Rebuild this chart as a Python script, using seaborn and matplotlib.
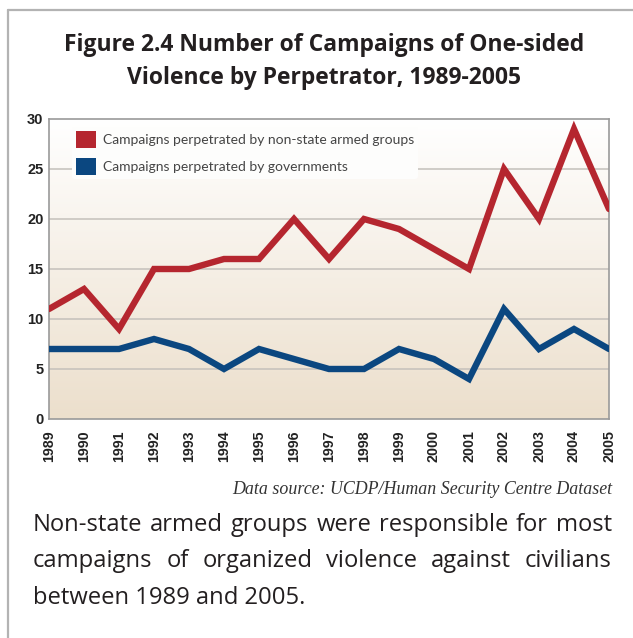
import numpy as np
import pandas as pd
import matplotlib
matplotlib.use("Agg")
import matplotlib.pyplot as plt
from matplotlib.patches import Patch
from matplotlib.lines import Line2D
import seaborn as sns

years = list(range(1989, 2006))
non_state = [11, 13, 9, 15, 15, 16, 16, 20, 16, 20, 19, 17, 15, 25, 20, 29, 21]
government = [7, 7, 7, 8, 7, 5, 7, 6, 5, 5, 7, 6, 4, 11, 7, 9, 7]
series_names = ["Campaigns perpetrated by non-state armed groups",
                "Campaigns perpetrated by governments"]
y_ticks = [0, 5, 10, 15, 20, 25, 30]

title_text = "Figure 2.4 Number of Campaigns of One-sided\nViolence by Perpetrator, 1989-2005"
source_text = "Data source: UCDP/Human Security Centre Dataset"
caption_lines = ["Non-state armed groups were responsible for most",
                 "campaigns of organized violence against civilians",
                 "between 1989 and 2005."]

RED = "#b5262f"
BLUE = "#0b4780"
GRID = "#c4c0bb"
SPINE = "#9a9a9a"

sns.set_theme(style="white")
plt.rcParams["font.family"] = ["Liberation Sans", "DejaVu Sans"]

df = pd.DataFrame({
    "year": years * 2,
    "count": non_state + government,
    "series": [series_names[0]] * len(years) + [series_names[1]] * len(years),
})

W, H, DPI = 633, 638, 100
fig = plt.figure(figsize=(W / DPI, H / DPI), dpi=DPI)
fig.patch.set_facecolor("white")

def fx(px):
    return px / W

def fy(py):
    return 1 - py / H

ax_left, ax_right, ax_top, ax_bot = 49, 609, 119, 419
ax = fig.add_axes([fx(ax_left), fy(ax_bot), fx(ax_right - ax_left), (ax_bot - ax_top) / H])

# vertical gradient background, white at top to warm tan at bottom
top_c = np.array([255, 255, 255]) / 255
bot_c = np.array([236, 223, 204]) / 255
t = np.linspace(0, 1, 256)[:, None]
grad = (1 - t) * top_c + t * bot_c
grad = np.repeat(grad[:, None, :], 2, axis=1)
ax.imshow(grad, extent=[1989, 2005, 0, 30], origin="upper", aspect="auto",
          zorder=0, interpolation="bilinear")

sns.lineplot(data=df, x="year", y="count", hue="series",
             palette={series_names[0]: RED, series_names[1]: BLUE},
             linewidth=4.6, ax=ax, legend=False, zorder=3,
             solid_joinstyle="miter")

ax.set_xlim(1989, 2005)
ax.set_ylim(0, 30)
ax.set_xticks(years)
ax.set_xticklabels([str(y) for y in years], rotation=90, fontweight="bold",
                   fontsize=10.3, color="#222222")
ax.set_yticks(y_ticks)
ax.set_yticklabels([str(v) for v in y_ticks], fontweight="bold", fontsize=10.5,
                   color="#222222")
for v in y_ticks[1:-1]:
    ax.axhline(v, color=GRID, linewidth=1.1, zorder=1)
ax.set_xlabel("")
ax.set_ylabel("")
for s in ax.spines.values():
    s.set_color(SPINE)
    s.set_linewidth(1.2)
    s.set_visible(True)
ax.tick_params(axis="x", direction="out", length=6, width=1.1, color=SPINE, pad=2)
ax.tick_params(axis="y", direction="out", length=0, pad=4)

handles = [Patch(facecolor=RED, edgecolor="none"), Patch(facecolor=BLUE, edgecolor="none")]
leg = ax.legend(handles, series_names, loc="upper left",
                bbox_to_anchor=((72 - ax_left) / (ax_right - ax_left),
                                1 - (127 - ax_top) / (ax_bot - ax_top)),
                frameon=True, facecolor="#fdfdfc", edgecolor="none", framealpha=1,
                handlelength=1.45, handleheight=1.5, handletextpad=0.45,
                labelspacing=0.72, borderpad=0.3, borderaxespad=0,
                prop={"family": ["Lato", "DejaVu Sans"], "size": 10})
for txt in leg.get_texts():
    txt.set_color("#454545")
leg.set_zorder(5)

# outer frame lines (top and left)
fig.add_artist(Line2D([fx(8), 1], [fy(10), fy(10)], color="#b3b3b3", linewidth=1.6))
fig.add_artist(Line2D([fx(8), fx(8)], [fy(10), 0], color="#b3b3b3", linewidth=1.6))

fig.text(fx(324), fy(61.5), title_text, ha="center", va="center",
         fontsize=16.5, fontweight="bold", family=["Open Sans", "DejaVu Sans"],
         color="#231f20", linespacing=1.5)

fig.text(fx(612), fy(489), source_text, ha="right", va="center",
         fontsize=12.9, style="italic", family=["Liberation Serif", "DejaVu Serif"],
         color="#333333")

# justified caption; size chosen so the first line fills the column
x0, x1 = 33, 612
line_y = [525, 561, 598]
renderer = fig.canvas.get_renderer()
probe = fig.text(0, 0, caption_lines[0], fontsize=14, family=["Open Sans", "DejaVu Sans"])
natural = probe.get_window_extent(renderer).width
probe.remove()
cap_size = 14 * (x1 - x0) / natural * 0.985
cap_font = dict(fontsize=cap_size, family=["Open Sans", "DejaVu Sans"], color="#231f20")
for i, (line, yy) in enumerate(zip(caption_lines, line_y)):
    if i == len(caption_lines) - 1:
        fig.text(fx(x0), fy(yy), line, ha="left", va="center", **cap_font)
        continue
    words = line.split(" ")
    objs = [fig.text(0, fy(yy), w, ha="left", va="center", **cap_font) for w in words]
    widths = [o.get_window_extent(renderer).width for o in objs]
    gap = (x1 - x0 - sum(widths)) / (len(words) - 1)
    xpos = x0
    for o, w in zip(objs, widths):
        o.set_x(fx(xpos))
        xpos += w + gap

fig.savefig("out.png", dpi=DPI)
